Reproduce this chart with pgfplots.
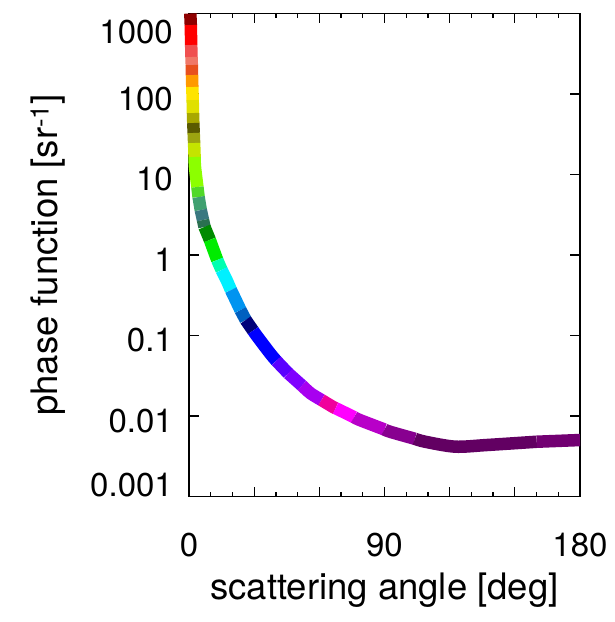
\documentclass[border=0pt]{standalone}
\usepackage{fontspec}
\setmainfont{TeX Gyre Heros}
\usepackage{pgfplots}
\pgfplotsset{compat=1.18}
\definecolor{c1}{HTML}{8E0000}
\definecolor{c2}{HTML}{FF0000}
\definecolor{c3}{HTML}{F05050}
\definecolor{c4}{HTML}{F07868}
\definecolor{c5}{HTML}{E8501E}
\definecolor{c6}{HTML}{FF9A00}
\definecolor{c7}{HTML}{FFE400}
\definecolor{c8}{HTML}{E0E000}
\definecolor{c9}{HTML}{A8A800}
\definecolor{c10}{HTML}{5A5A00}
\definecolor{c11}{HTML}{9CA410}
\definecolor{c12}{HTML}{C4E400}
\definecolor{c13}{HTML}{8CFF00}
\definecolor{c14}{HTML}{50D828}
\definecolor{c15}{HTML}{3FA070}
\definecolor{c16}{HTML}{3A7880}
\definecolor{c17}{HTML}{2A7050}
\definecolor{c18}{HTML}{008A00}
\definecolor{c19}{HTML}{00EC00}
\definecolor{c20}{HTML}{00FFB0}
\definecolor{c21}{HTML}{00F0FF}
\definecolor{c22}{HTML}{0094F0}
\definecolor{c23}{HTML}{0060C0}
\definecolor{c24}{HTML}{00007A}
\definecolor{c25}{HTML}{0000FF}
\definecolor{c26}{HTML}{5A00FF}
\definecolor{c27}{HTML}{8000FF}
\definecolor{c28}{HTML}{A800F0}
\definecolor{c29}{HTML}{F0009C}
\definecolor{c30}{HTML}{FF00FF}
\definecolor{c31}{HTML}{B800C8}
\definecolor{c32}{HTML}{880090}
\definecolor{c33}{HTML}{620062}
\definecolor{c34}{HTML}{720072}
\pgfplotsset{seg/.style={line width=12.5pt, line cap=butt, line join=round, mark=none, smooth}}
\begin{document}
\begin{tikzpicture}
\path[use as bounding box] (-189pt,-125.5pt) rectangle (425pt,496.5pt);
\begin{axis}[
  at={(0pt,0pt)}, anchor=south west,
  scale only axis, width=391pt, height=483pt,
  xmin=0, xmax=180, ymode=log, ymin=0.001, ymax=1000,
  clip=false,
  xtick={0,30,...,180}, xticklabels={0,,,90,,,180},
  minor x tick num=2,
  ytick={0.001,0.01,0.1,1,10,100,1000},
  yticklabels={\raisebox{16.5pt}[\height][\depth]{0.001},0.01,0.1,1,10,100,\raisebox{-13.5pt}[\height][\depth]{1000}},
  yminorticks=false,
  major tick length=10pt, minor tick length=5pt,
  axis line style={line width=1.4pt},
  every tick/.style={black, line width=1.3pt},
  /pgf/number format/assume math mode=true,
  tick label style={font=\fontsize{33}{40}\selectfont, inner sep=0pt},
  xticklabel style={anchor=center, yshift=-48.5pt},
  yticklabel style={anchor=east, xshift=-16pt, yshift=-5pt},
  xlabel={scattering angle [deg]},
  ylabel={phase function [sr\textsuperscript{-1}]},
  label style={font=\fontsize{36.5}{44}\selectfont},
  xlabel style={at={(axis description cs:0.5,-0.1936)}, anchor=center},
  ylabel style={at={(axis description cs:-0.3606,0.5)}, anchor=center},
]
\addplot[seg, color=c1] coordinates {(0.60,1000) (0.83,719)};
\addplot[seg, color=c2] coordinates {(0.83,719) (1.01,406)};
\addplot[seg, color=c3] coordinates {(1.01,406) (1.15,288)};
\addplot[seg, color=c4] coordinates {(1.15,288) (1.29,229)};
\addplot[seg, color=c5] coordinates {(1.29,229) (1.38,172)};
\addplot[seg, color=c6] coordinates {(1.38,172) (1.52,122)};
\addplot[seg, color=c7] coordinates {(1.52,122) (1.70,84)};
\addplot[seg, color=c8] coordinates {(1.70,84) (1.84,58)};
\addplot[seg, color=c9] coordinates {(1.84,58) (1.98,43.6)};
\addplot[seg, color=c10] coordinates {(1.98,43.6) (2.16,32.8)};
\addplot[seg, color=c11] coordinates {(2.16,32.8) (2.35,24.6)};
\addplot[seg, color=c12] coordinates {(2.35,24.6) (2.58,16.5)};
\addplot[seg, color=c13] coordinates {(2.58,16.5) (2.76,12.4) (3.87,7.0)};
\addplot[seg, color=c14] coordinates {(3.87,7.0) (4.42,5.25)};
\addplot[seg, color=c15] coordinates {(4.42,5.25) (5.43,3.62)};
\addplot[seg, color=c16] coordinates {(5.43,3.62) (6.45,2.72)};
\addplot[seg, color=c17] coordinates {(6.45,2.72) (7.14,2.23)};
\addplot[seg, color=c18] coordinates {(7.14,2.23) (9.6,1.54)};
\addplot[seg, color=c19] coordinates {(9.6,1.54) (11.3,1.153) (13.0,0.867)};
\addplot[seg, color=c20] coordinates {(13.0,0.867) (15.0,0.651)};
\addplot[seg, color=c21] coordinates {(15.0,0.651) (17.3,0.489) (19.3,0.367)};
\addplot[seg, color=c22] coordinates {(19.3,0.367) (21.5,0.276) (23.7,0.207)};
\addplot[seg, color=c23] coordinates {(23.7,0.207) (26.1,0.156)};
\addplot[seg, color=c24] coordinates {(26.1,0.156) (29.5,0.115)};
\addplot[seg, color=c25] coordinates {(29.5,0.115) (31.5,0.0966) (37.3,0.0601) (40.2,0.0485)};
\addplot[seg, color=c26] coordinates {(40.2,0.0485) (45.7,0.0339)};
\addplot[seg, color=c27] coordinates {(45.7,0.0339) (52.0,0.0239)};
\addplot[seg, color=c28] coordinates {(52.0,0.0239) (56.0,0.0191) (61.0,0.0158)};
\addplot[seg, color=c29] coordinates {(61.0,0.0158) (66.0,0.0131) (67.5,0.0125)};
\addplot[seg, color=c30] coordinates {(67.5,0.0125) (73.0,0.0106) (76.0,0.00966)};
\addplot[seg, color=c31] coordinates {(76.0,0.00966) (78.7,0.0089) (90.0,0.0068)};
\addplot[seg, color=c32] coordinates {(90.0,0.0068) (92.5,0.00638) (104.0,0.00521)};
\addplot[seg, color=c33] coordinates {(104.0,0.00521) (108.6,0.0048) (122.5,0.00416) (137.05,0.00436) (160.07,0.00479)};
\addplot[seg, color=c34] coordinates {(160.07,0.00479) (180,0.00503)};
\end{axis}
\end{tikzpicture}
\end{document}
